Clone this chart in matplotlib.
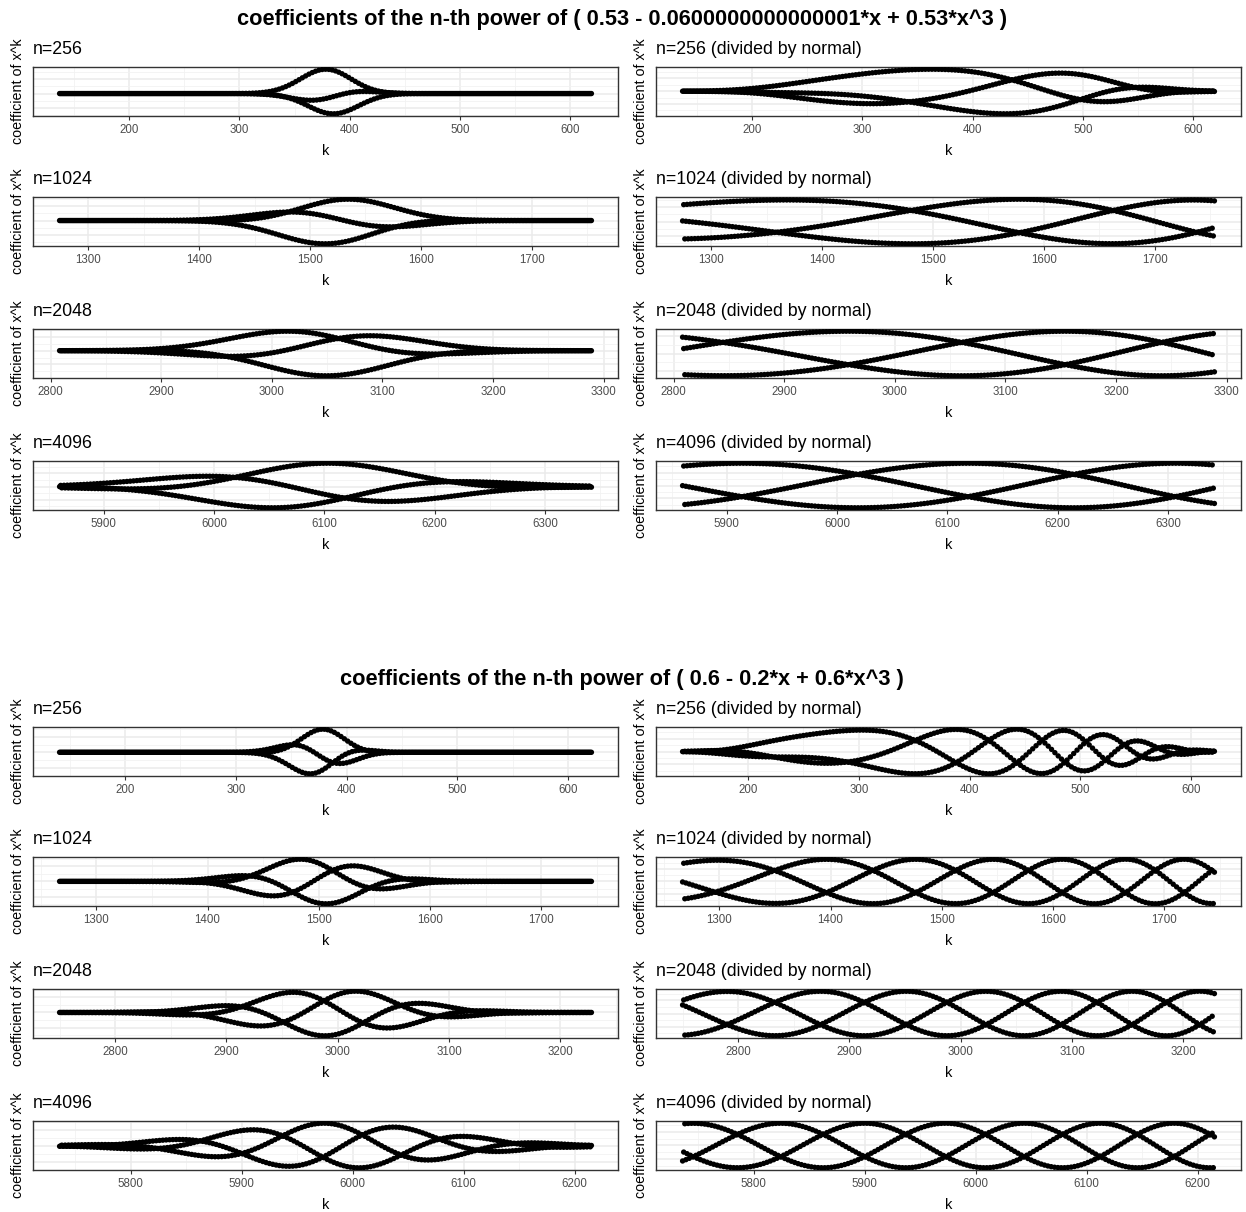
import numpy as np
import matplotlib
matplotlib.use("Agg")
import matplotlib.pyplot as plt
from matplotlib.ticker import MultipleLocator, MaxNLocator, AutoMinorLocator

# Polynomials, coefficients of x^0, x^1, x^2, x^3
poly_a = [0.53, -0.0600000000000001, 0.0, 0.53]
poly_b = [0.6, -0.2, 0.0, 0.6]
titles = [
    "coefficients of the n-th power of ( 0.53 - 0.0600000000000001*x + 0.53*x^3 )",
    "coefficients of the n-th power of ( 0.6 - 0.2*x + 0.6*x^3 )",
]
powers = [256, 1024, 2048, 4096]

# range of k shown for each power
k_lo_a = [137, 1274, 2808, 5860]
k_hi_a = [619, 1754, 3289, 6342]
k_lo_b = [141, 1267, 2750, 5736]
k_hi_b = [621, 1745, 3228, 6215]

ylabel = "coefficient of x^k"
xlabel = "k"

plt.rcParams["font.family"] = ["Liberation Sans", "DejaVu Sans"]

W, H = 1246, 1212
fig = plt.figure(figsize=(W / 100, H / 100), dpi=100)
fig.patch.set_facecolor("white")


def power_coeffs(coefs, n):
    """Coefficients of (coefs polynomial)^n, scaled by sum|coefs|^n to stay in range."""
    base = np.asarray(coefs, float)
    base = base / np.abs(base).sum()
    result = np.array([1.0])
    while n:
        if n & 1:
            result = np.convolve(result, base)
        n >>= 1
        if n:
            base = np.convolve(base, base)
    return result


def normal_fit(c):
    k = np.arange(len(c), dtype=float)
    w = np.abs(c)
    m = (k * w).sum() / w.sum()
    v = ((k - m) ** 2 * w).sum() / w.sum()
    return m, np.sqrt(v)


def px_axes(x0, y0, w, h):
    return fig.add_axes([x0 / W, 1 - (y0 + h) / H, w / W, h / H])


def style(ax, k0, k1):
    ax.set_facecolor("white")
    for s in ax.spines.values():
        s.set_color("#333333")
        s.set_linewidth(1.0)
    ax.xaxis.set_major_locator(MultipleLocator(100))
    ax.xaxis.set_minor_locator(MultipleLocator(50))
    ax.yaxis.set_major_locator(MaxNLocator(nbins=4))
    ax.yaxis.set_minor_locator(AutoMinorLocator(2))
    ax.grid(which="major", color="#EBEBEB", linewidth=1.1)
    ax.grid(which="minor", color="#F2F2F2", linewidth=0.6)
    ax.set_axisbelow(True)
    ax.tick_params(axis="x", which="major", length=3, width=0.8, color="#333333",
                   labelsize=8.3, labelcolor="#4D4D4D", pad=2.5)
    ax.tick_params(axis="x", which="minor", length=0)
    ax.tick_params(axis="y", which="both", length=0, labelleft=False)
    ax.yaxis.offsetText.set_visible(False)
    ax.xaxis.offsetText.set_visible(False)
    ax.set_xlim(k0 - 0.05 * (k1 - k0), k1 + 0.05 * (k1 - k0))
    ax.margins(y=0.05)
    ax.set_xlabel(xlabel, fontsize=10.5, labelpad=6)


blocks = [
    (poly_a, k_lo_a, k_hi_a, titles[0]),
    (poly_b, k_lo_b, k_hi_b, titles[1]),
]
row_tops = [67, 197, 329, 461]
block_shift = 660
col_x = [33, 656]
panel_w, panel_h = 585, 49

for b, (poly, k_lo, k_hi, title) in enumerate(blocks):
    fig.text(622 / W, 1 - (20 + b * block_shift) / H, title, ha="center", va="center",
             fontsize=15.7, fontweight="bold", color="black")
    for i, n in enumerate(powers):
        c = power_coeffs(poly, n)
        mu, sd = normal_fit(c)
        k = np.arange(k_lo[i], k_hi[i] + 1)
        vals = c[k]
        dens = np.exp(-0.5 * ((k - mu) / sd) ** 2) / (sd * np.sqrt(2 * np.pi))
        series = [vals, vals / dens]
        labels = [f"n={n}", f"n={n} (divided by normal)"]
        top = row_tops[i] + b * block_shift
        for j in range(2):
            ax = px_axes(col_x[j], top, panel_w, panel_h)
            ax.scatter(k, series[j], s=15, color="black", edgecolors="none", zorder=3)
            style(ax, k_lo[i], k_hi[i])
            fig.text(col_x[j] / W, 1 - (top - 13) / H, labels[j], ha="left",
                     va="baseline", fontsize=12.8, color="black")
            fig.text((col_x[j] - 15) / W, 1 - (top + panel_h / 2) / H, ylabel,
                     rotation=90, ha="center", va="center", fontsize=10.3, color="black")

fig.savefig("out.png", dpi=100, facecolor="white")
